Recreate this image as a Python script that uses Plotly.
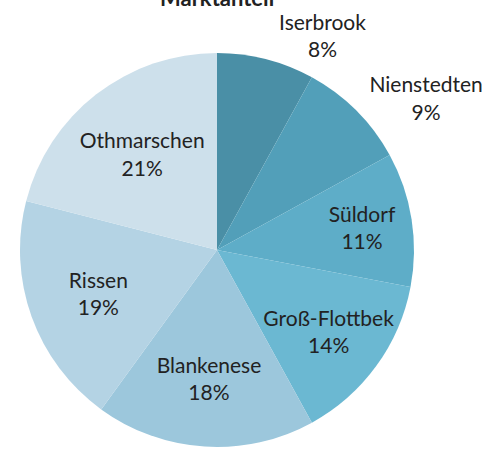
import plotly.graph_objects as go

labels = ["Iserbrook", "Nienstedten", "Süldorf", "Groß-Flottbek", "Blankenese", "Rissen", "Othmarschen"]
values = [8, 9, 11, 14, 18, 19, 21]
colors = ["#4a8fa6", "#529fb9", "#5eadc8", "#6bb8d2", "#9cc7dc", "#b4d3e4", "#cde0eb"]
positions = ["outside", "outside", "inside", "inside", "inside", "inside", "inside"]
title = "Marktanteil"

fig = go.Figure(go.Pie(
    labels=labels,
    values=values,
    sort=False,
    direction="clockwise",
    rotation=0,
    marker=dict(colors=colors, line=dict(width=0)),
    texttemplate="%{label}<br>%{percent:.0%}",
    textposition=positions,
    insidetextorientation="horizontal",
    textfont=dict(family="Lato, Open Sans, sans-serif", size=21, color="#222222"),
    showlegend=False,
))

fig.update_layout(
    width=489, height=453,
    margin=dict(l=19, r=62, t=53, b=0),
    paper_bgcolor="white",
    plot_bgcolor="white",
    uniformtext=dict(minsize=21, mode="show"),
    annotations=[dict(
        text="<b>" + title + "</b>", x=0.5, y=1.14, xref="paper", yref="paper",
        xanchor="center", yanchor="middle", showarrow=False,
        font=dict(family="Lato, Open Sans, sans-serif", size=22, color="#222222"))],
)

fig.write_html("out.html")
